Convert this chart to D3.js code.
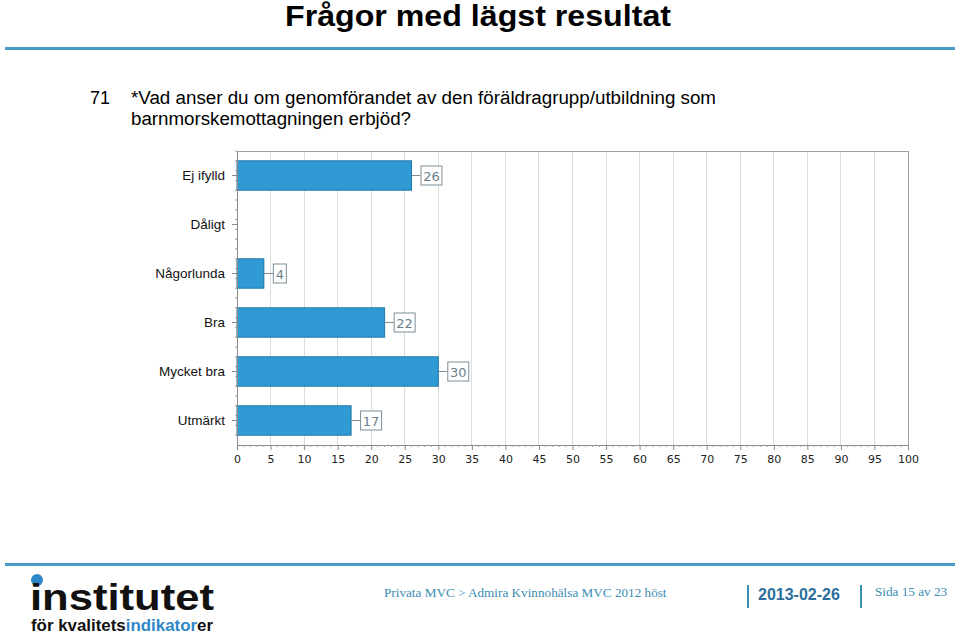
<!DOCTYPE html>
<html><head><meta charset="utf-8">
<script src="https://cdn.jsdelivr.net/npm/d3@7"></script>
<style>body{margin:0;background:#fff}svg{display:block}</style>
</head><body>
<svg id="c" width="960" height="635"></svg>
<script>
const categories = ["Ej ifylld","Dåligt","Någorlunda","Bra","Mycket bra","Utmärkt"];
const values = [26, 0, 4, 22, 30, 17];
const xTicks = [0,5,10,15,20,25,30,35,40,45,50,55,60,65,70,75,80,85,90,95,100];
const title = "Frågor med lägst resultat";
const qNum = "71";
const qLines = ["*Vad anser du om genomförandet av den föräldragrupp/utbildning som","barnmorskemottagningen erbjöd?"];
const footerText = "Privata MVC > Admira Kvinnohälsa MVC 2012 höst";
const footerDate = "2013-02-26";
const footerPage = "Sida 15 av 23";

const svg = d3.select("#c");

// Title
svg.append("text").attr("x",478).attr("y",26).attr("text-anchor","middle")
  .attr("font-family","Liberation Sans, Arial, sans-serif").attr("font-weight","bold")
  .attr("font-size",29).attr("fill","#000").attr("textLength",386).attr("lengthAdjust","spacingAndGlyphs").text(title);
svg.append("rect").attr("x",5).attr("y",47).attr("width",950).attr("height",3).attr("fill","#4a9ac6");

// Question
const qf = "Liberation Sans, Arial, sans-serif";
svg.append("text").attr("x",90).attr("y",104).attr("font-family",qf).attr("font-size",18).text(qNum);
svg.append("text").attr("x",131).attr("y",104).attr("font-family",qf).attr("font-size",18)
  .attr("textLength",585).attr("lengthAdjust","spacingAndGlyphs").text(qLines[0]);
svg.append("text").attr("x",131).attr("y",125).attr("font-family",qf).attr("font-size",18)
  .attr("textLength",280).attr("lengthAdjust","spacingAndGlyphs").text(qLines[1]);

// Chart
const x0 = 237, x1 = 908, yTop = 151, yBot = 445;
const x = d3.scaleLinear().domain([0,100]).range([x0,x1]);
const y = d3.scaleBand().domain(categories).range([yTop,yBot]).paddingInner(0.4).paddingOuter(0.2);
const cf = "DejaVu Sans, Tahoma, sans-serif";
const g = svg.append("g");

// gridlines
g.selectAll("line.grid").data(xTicks.filter(d=>d>0 && d<100)).join("line")
  .attr("x1",d=>x(d)).attr("x2",d=>x(d)).attr("y1",yTop).attr("y2",yBot)
  .attr("stroke","#dcdcdc").attr("stroke-width",1).attr("shape-rendering","crispEdges");
// frame top/right
g.append("path").attr("d",`M${x0},${yTop}H${x1}V${yBot}`).attr("fill","none").attr("stroke","#a0a0a0").attr("shape-rendering","crispEdges");

// bars
const rows = categories.map((c,i)=>({c,v:values[i]})).filter(d=>d.v>0);
g.selectAll("rect.bar").data(rows).join("rect")
  .attr("x",x(0)).attr("y",d=>y(d.c)).attr("width",d=>x(d.v)-x(0)).attr("height",y.bandwidth())
  .attr("fill","#2f9ad3").attr("stroke","#1f78a8").attr("stroke-width",1);

// value labels
const lab = g.selectAll("g.lab").data(rows).join("g")
  .attr("transform",d=>`translate(${x(d.v)},${y(d.c)+y.bandwidth()/2})`);
lab.append("line").attr("x1",0).attr("x2",9).attr("y1",0).attr("y2",0).attr("stroke","#7d8e96");
lab.append("rect").attr("x",9.5).attr("y",-9.5).attr("width",d=>String(d.v).length*8+5).attr("height",19)
  .attr("fill","#fff").attr("stroke","#7d8e96");
lab.append("text").attr("x",d=>9.5+(String(d.v).length*8+5)/2).attr("y",5).attr("text-anchor","middle")
  .attr("font-family",cf).attr("font-size",13).attr("fill","#6a7f8a").text(d=>d.v);

// x axis
const xAxis = d3.axisBottom(x).tickValues(xTicks).tickSize(5).tickPadding(5);
const xa = g.append("g").attr("transform",`translate(0,${yBot})`).call(xAxis);
xa.select(".domain").attr("stroke","#8a8a8a");
xa.selectAll(".tick line").attr("stroke","#8a8a8a");
xa.selectAll("text").attr("font-family",cf).attr("font-size",11).attr("fill","#222");
const minor = d3.range(0,101).filter(d=>d%5!==0);
g.append("g").selectAll("line").data(minor).join("line")
  .attr("x1",d=>x(d)).attr("x2",d=>x(d)).attr("y1",yBot).attr("y2",yBot+2).attr("stroke","#9a9a9a");

// y axis
const yAxis = d3.axisLeft(y).tickSize(5).tickPadding(7).tickSizeOuter(0);
const ya = g.append("g").attr("transform",`translate(${x0},0)`).call(yAxis);
ya.select(".domain").attr("stroke","#8a8a8a");
ya.selectAll(".tick line").attr("stroke","#8a8a8a");
ya.selectAll("text").attr("font-family","Liberation Sans, Arial, sans-serif").attr("font-size",13.5).attr("fill","#111");
const yMinor = d3.range(yTop, yBot, 49/5);
g.append("g").selectAll("line").data(yMinor).join("line")
  .attr("x1",x0-2).attr("x2",x0).attr("y1",d=>d).attr("y2",d=>d).attr("stroke","#9a9a9a");

// Footer
svg.append("rect").attr("x",5).attr("y",563).attr("width",950).attr("height",3).attr("fill","#4a9ac6");
svg.append("circle").attr("cx",37).attr("cy",580).attr("r",6).attr("fill","#2f86c8");
svg.append("text").attr("x",30).attr("y",610).attr("font-family","Liberation Sans, Arial, sans-serif").attr("font-weight","bold")
  .attr("font-size",36).attr("textLength",184).attr("lengthAdjust","spacingAndGlyphs").attr("fill","#111").text("institutet");
const lt = svg.append("text").attr("x",31).attr("y",631).attr("font-family","Liberation Sans, Arial, sans-serif").attr("font-weight","bold")
  .attr("font-size",16).attr("textLength",182).attr("lengthAdjust","spacingAndGlyphs");
lt.append("tspan").attr("fill","#111").text("för kvalitets");
lt.append("tspan").attr("fill","#2f86c8").text("indikator");
lt.append("tspan").attr("fill","#111").text("er");

svg.append("text").attr("x",384).attr("y",597).attr("font-family","Liberation Serif, Times New Roman, serif")
  .attr("font-size",13.2).attr("fill","#3b8db3").text(footerText);
svg.append("rect").attr("x",747).attr("y",585).attr("width",2).attr("height",23).attr("fill","#3b8db3");
svg.append("text").attr("x",758).attr("y",600).attr("font-family","Liberation Sans, Arial, sans-serif").attr("font-weight","bold")
  .attr("font-size",16).attr("fill","#2b6f9e").text(footerDate);
svg.append("rect").attr("x",860).attr("y",585).attr("width",2).attr("height",23).attr("fill","#3b8db3");
svg.append("text").attr("x",875).attr("y",596).attr("font-family","Liberation Serif, Times New Roman, serif")
  .attr("font-size",13.2).attr("fill","#3b8db3").text(footerPage);
</script>
</body></html>
